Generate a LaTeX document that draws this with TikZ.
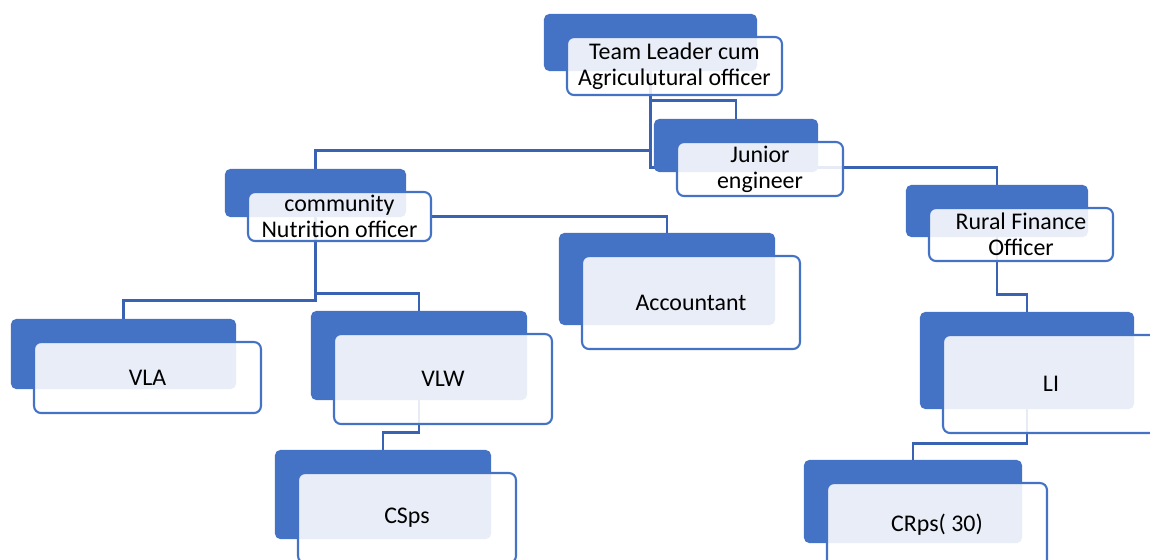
\documentclass[tikz,border=0pt]{standalone}
\usepackage{fontspec}
\setmainfont{Carlito}
\usetikzlibrary{calc,fit}
\definecolor{orgblue}{RGB}{68,114,196}
\definecolor{linkblue}{RGB}{58,98,178}
\pgfdeclarelayer{links}
\pgfdeclarelayer{cards}
\pgfsetlayers{links,cards,main}
\tikzset{
    % front card carrying the label (a little see-through)
    frontcard/.style={
        rectangle, rounded corners=4pt, draw=orgblue, line width=1.2pt,
        fill=white, fill opacity=0.88, text opacity=1,
        align=center, inner sep=0pt,
        font=\fontsize{13.6}{14.7}\selectfont
    },
    % solid card sitting behind, shifted up-left
    backcard/.style={
        rectangle, rounded corners=3pt, draw=none, fill=orgblue, inner sep=0pt
    },
    % elbow connectors
    orgline/.style={line width=1.4pt, linkblue},
}

\begin{document}
\begin{tikzpicture}[x=0.02cm,y=-0.02cm]
  \useasboundingbox (0,0) rectangle (1150,559);
  % labelled cards (pixel grid, y downwards)
  \node[frontcard, minimum width=4.30cm, minimum height=1.16cm] (tl)   at (674.5,66)    {Team Leader cum\\Agriculutural officer};
  \node[frontcard, minimum width=3.32cm, minimum height=1.08cm] (je)   at (760,169)     {Junior\\engineer};
  \node[frontcard, minimum width=3.66cm, minimum height=0.98cm] (cno)  at (339.5,216.5) {community\\Nutrition officer};
  \node[frontcard, minimum width=4.36cm, minimum height=1.86cm] (acc)  at (691,302.5)   {Accountant};
  \node[frontcard, minimum width=3.68cm, minimum height=1.06cm] (rfo)  at (1021,234.5)  {Rural Finance\\Officer};
  \node[frontcard, minimum width=4.54cm, minimum height=1.42cm] (vla)  at (147.5,377.5) {VLA};
  \node[frontcard, minimum width=4.36cm, minimum height=1.80cm] (vlw)  at (443,379)     {VLW};
  \node[frontcard, minimum width=4.36cm, minimum height=1.80cm] (csps) at (407,518)     {CSps};
  \node[frontcard, minimum width=4.32cm, minimum height=1.96cm] (li)   at (1051,384)    {LI};
  \node[frontcard, minimum width=4.40cm, minimum height=1.68cm] (crps) at (937,525)     {CRps( 30)};
  % blue cards behind each label
  \begin{pgfonlayer}{cards}
    \foreach \n in {tl,je,cno,acc,rfo,vla,vlw,csps,li,crps}
      \node[backcard, fit={($(\n.north west)+(-22,-22)$) ($(\n.south east)+(-26,-25)$)}] (\n-bg) {};
  \end{pgfonlayer}
  % connectors
  \begin{pgfonlayer}{links}
    \draw[orgline] (tl-bg.south) -- ++(0,79) -| (cno-bg.north);
    \draw[orgline] (tl-bg.south) -- ++(0,29) -| (je-bg.north);
    \draw[orgline] (tl-bg.south) -- ++(0,96) -| (rfo-bg.north);
    \draw[orgline] (cno.east) -| (acc-bg.north);
    \draw[orgline] (cno-bg.south) -- ++(0,83) -| (vla-bg.north);
    \draw[orgline] (cno-bg.south) -- ++(0,76) -| (vlw-bg.north);
    \draw[orgline] (vlw-bg.south) -- ++(0,32) -| (csps-bg.north);
    \draw[orgline] (rfo-bg.south) -- ++(0,57) -| (li-bg.north);
    \draw[orgline] (li-bg.south) -- ++(0,34) -| (crps-bg.north);
  \end{pgfonlayer}
\end{tikzpicture}
\end{document}
